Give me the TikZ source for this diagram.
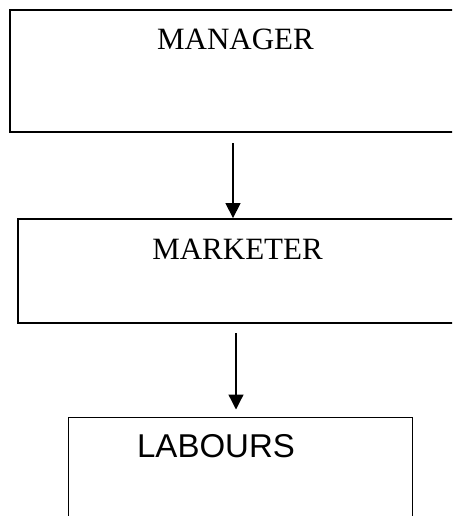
\documentclass[tikz,border=0pt]{standalone}
\usepackage{fontspec}
\setmainfont{Liberation Serif}
\setsansfont{Liberation Sans}
\usetikzlibrary{arrows.meta}
\begin{document}
\begin{tikzpicture}[x=1pt,y=-1pt,
  boxthick/.style={draw, line width=1.8pt, inner sep=0pt, rectangle},
  boxthin/.style={draw, line width=1pt, inner sep=0pt, rectangle},
  serifl/.style={anchor=base, inner sep=0pt, font=\fontsize{31}{36}\selectfont},
  sansl/.style={anchor=base, inner sep=0pt, font=\sffamily\fontsize{33}{38}\selectfont},
  arr/.style={line width=1.3pt, -{Triangle[length=15pt,width=15pt]}}]
\useasboundingbox (0,0) rectangle (452,516);
\clip (0,0) rectangle (452,516);
\node[boxthick, minimum width=452pt, minimum height=122pt] (manager) at (236,71) {};
\node[boxthick, minimum width=452pt, minimum height=104pt] (marketer) at (244,271) {};
\node[boxthin, minimum width=344pt, minimum height=130pt] (labours) at (240,482) {};
\node[serifl] (tmanager) at (235.5,50) {MANAGER};
\node[serifl] (tmarketer) at (237.5,259) {MARKETER};
\node[sansl] (tlabours) at (216,457) {LABOURS};
\coordinate (a1) at (233,143);
\coordinate (a2) at (236,333);
\draw[arr] (a1) -- (a1 |- marketer.north);
\draw[arr, shorten >=7pt] (a2) -- (a2 |- labours.north);
\end{tikzpicture}
\end{document}
